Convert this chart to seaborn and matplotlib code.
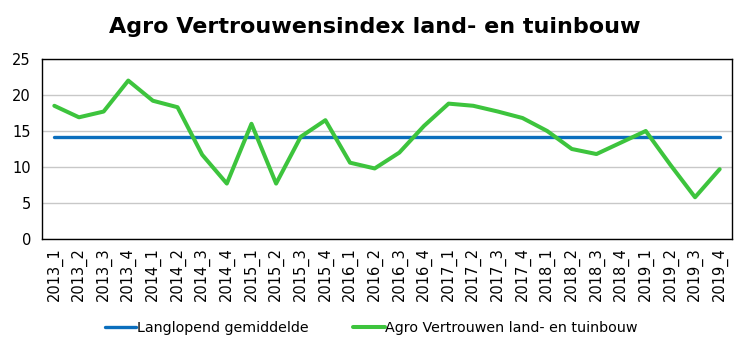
import matplotlib
matplotlib.use("Agg")
import matplotlib.pyplot as plt
import seaborn as sns
import pandas as pd
import numpy as np

quarters = ["2013_1", "2013_2", "2013_3", "2013_4", "2014_1", "2014_2", "2014_3", "2014_4",
            "2015_1", "2015_2", "2015_3", "2015_4", "2016_1", "2016_2", "2016_3", "2016_4",
            "2017_1", "2017_2", "2017_3", "2017_4", "2018_1", "2018_2", "2018_3", "2018_4",
            "2019_1", "2019_2", "2019_3", "2019_4"]
agro = [18.5, 16.9, 17.7, 22.0, 19.2, 18.3, 11.7, 7.7,
        16.0, 7.7, 14.2, 16.5, 10.6, 9.8, 12.0, 15.7,
        18.8, 18.5, 17.7, 16.8, 15.0, 12.5, 11.8, 13.4,
        15.0, 10.3, 5.8, 9.7]
longterm_mean = [14.2] * len(quarters)
series_names = ["Langlopend gemiddelde", "Agro Vertrouwen land- en tuinbouw"]
title = "Agro Vertrouwensindex land- en tuinbouw"

sns.set_theme(style="white")
plt.rcParams['font.family'] = ['DejaVu Sans']
plt.rcParams['text.color'] = 'black'
plt.rcParams['xtick.color'] = 'black'
plt.rcParams['ytick.color'] = 'black'

df = pd.DataFrame({
    "pos": list(range(len(quarters))) * 2,
    "value": longterm_mean + agro,
    "series": [series_names[0]] * len(quarters) + [series_names[1]] * len(quarters),
})

fig = plt.figure(figsize=(7.5, 3.51), dpi=100)
ax = fig.add_axes([0.056, 0.319, 0.92, 0.513])

palette = {series_names[0]: "#0A6EBD", series_names[1]: "#3DC43D"}
sns.lineplot(data=df, x="pos", y="value", hue="series", palette=palette,
             ax=ax, linewidth=2.8, legend=True)
for line, lw in zip(ax.get_lines(), [2.4, 2.9]):
    line.set_linewidth(lw)
    line.set_solid_capstyle("round")

ax.set_xlim(-0.5, len(quarters) - 0.5)
ax.set_ylim(0, 25)
ax.set_yticks([0, 5, 10, 15, 20, 25])
ax.set_xticks(range(len(quarters)))
ax.set_xticklabels(quarters, rotation=90, fontsize=10.5)
ax.tick_params(axis="y", labelsize=10.5, length=0, pad=8)
ax.tick_params(axis="x", length=0, pad=6)
ax.set_xlabel("")
ax.set_ylabel("")
ax.yaxis.grid(True, color="#C8C8C8", linewidth=1.0)
ax.set_axisbelow(True)
for s in ax.spines.values():
    s.set_visible(True)
    s.set_color("black")
    s.set_linewidth(1.0)

ax.legend_.remove()
handles = ax.get_lines()[:2]
fig.legend(handles, series_names, loc="center left", bbox_to_anchor=(0.14, 0.066),
           ncol=2, frameon=False, handlelength=2.2, borderaxespad=0, borderpad=0,
           handletextpad=0.05, columnspacing=3.1, fontsize=10.3)

fig.text(0.5, 0.923, title, ha="center", va="center", fontsize=16, fontweight="bold")

fig.savefig("out.png", dpi=100)
